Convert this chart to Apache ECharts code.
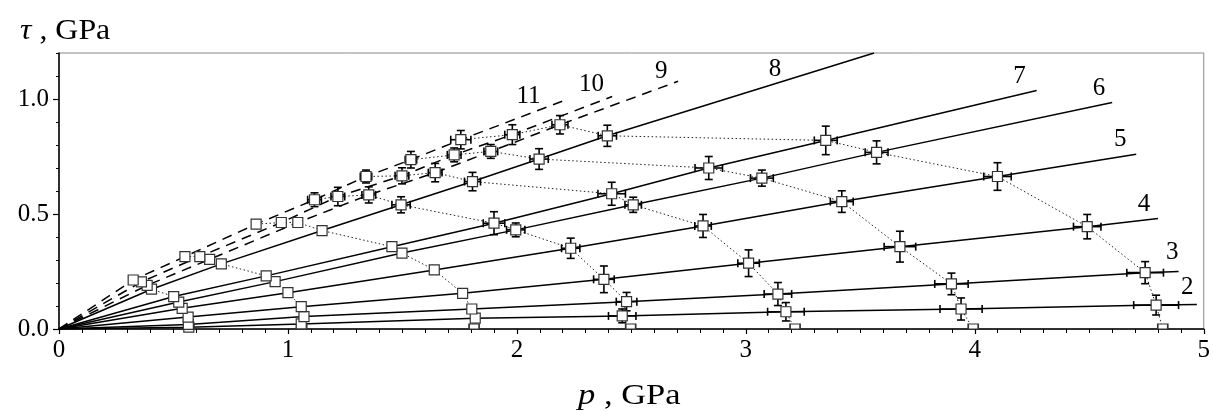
<!DOCTYPE html>
<html>
<head>
<meta charset="utf-8">
<title>tau vs p</title>
<script src="https://cdn.jsdelivr.net/npm/echarts@6/dist/echarts.min.js"></script>
<style>
    html, body { margin: 0; padding: 0; background: #fff; }
    #chart { width: 1213px; height: 412px; }
</style>
</head>
<body>
<div id="chart"></div>
<script>
// yield loci: one entry per loading path, index 0 = path 1 (tau = 0) ... index 10 = path 11
const locus1P = [0.567, 0.567, 0.565, 0.564, 0.538, 0.523, 0.501, 0.404, 0.385, 0.360, 0.324];
const locus1T = [0, 0.008, 0.020, 0.052, 0.090, 0.117, 0.141, 0.173, 0.190, 0.205, 0.213];
const locus2P = [1.060, 1.058, 1.070, 1.058, 1.000, 0.944, 0.905, 0.709, 0.658, 0.615, 0.550];
const locus2T = [0, 0.022, 0.054, 0.097, 0.158, 0.206, 0.231, 0.283, 0.303, 0.315, 0.315];
const locus3P = [1.813, 1.818, 1.803, 1.763, 1.639, 1.498, 1.454, 1.149, 1.043, 0.971, 0.861];
const locus3T = [0, 0.047, 0.087, 0.155, 0.257, 0.330, 0.358, 0.428, 0.463, 0.463, 0.456];
const locus4P = [2.497, 2.460, 2.479, 2.380, 2.235, 1.995, 1.900, 1.494, 1.353, 1.218, 1.116];
const locus4T = [0, 0.057, 0.119, 0.216, 0.351, 0.431, 0.460, 0.540, 0.583, 0.576, 0.562];
const locus5P = [3.215, 3.175, 3.140, 3.012, 2.813, 2.508, 2.414, 1.806, 1.643, 1.498, 1.341];
const locus5T = [0, 0.075, 0.152, 0.286, 0.448, 0.540, 0.588, 0.641, 0.680, 0.666, 0.663];
const locus6P = [3.993, 3.940, 3.898, 3.673, 3.419, 3.070, 2.838, 2.097, 1.886, 1.726, 1.537];
const locus6T = [0, 0.087, 0.196, 0.358, 0.554, 0.656, 0.700, 0.739, 0.772, 0.757, 0.736];
const locus7P = [4.821, 4.792, 4.744, 4.491, 4.099, 3.571, 3.349, 2.395, 2.188, 1.980, 1.755];
const locus7T = [0, 0.104, 0.245, 0.445, 0.663, 0.768, 0.820, 0.840, 0.888, 0.845, 0.823];

// error bars (half widths), only loci 4..7 have them
const locus4dP = [0, 0.060, 0.045, 0.045, 0.040, 0.040, 0.047, 0.040, 0.030, 0.030, 0.030];
const locus4dT = [0, 0.030, 0.040, 0.058, 0.044, 0.030, 0.050, 0.035, 0.035, 0.040, 0.030];
const locus5dP = [0, 0.080, 0.060, 0.047, 0.036, 0.036, 0.060, 0.035, 0.030, 0.030, 0.025];
const locus5dT = [0, 0.040, 0.050, 0.058, 0.050, 0.033, 0.050, 0.040, 0.040, 0.035, 0.028];
const locus6dP = [0, 0.092, 0.073, 0.069, 0.050, 0.050, 0.060, 0.040, 0.030, 0.030, 0.025];
const locus6dT = [0, 0.048, 0.047, 0.067, 0.047, 0.035, 0.050, 0.045, 0.030, 0.030, 0.036];
const locus7dP = [0, 0.098, 0.080, 0.060, 0.060, 0.050, 0.050, 0.040, 0.035, 0.033, 0.044];
const locus7dT = [0, 0.043, 0.048, 0.053, 0.060, 0.050, 0.062, 0.046, 0.040, 0.043, 0.040];

// where each loading path stops (paths 2..11)
const pathNames = ['2', '3', '4', '5', '6', '7', '8', '9', '10', '11'];
const pathEndP = [4.97, 4.89, 4.80, 4.705, 4.60, 4.27, 3.56, 2.704, 2.416, 2.198];
const pathEndT = [0.107, 0.25, 0.48, 0.76, 0.985, 1.037, 1.2, 1.077, 1.011, 0.99];

// curve number labels
const labelP = [4.93, 4.865, 4.741, 4.638, 4.545, 4.197, 3.13, 2.633, 2.328, 2.053];
const labelT = [0.178, 0.331, 0.54, 0.823, 1.045, 1.097, 1.127, 1.119, 1.062, 1.01];

const xTicks = [0, 1, 2, 3, 4, 5];
const yTicks = [0, 0.5, 1.0];

const lociP = [locus1P, locus2P, locus3P, locus4P, locus5P, locus6P, locus7P];
const lociT = [locus1T, locus2T, locus3T, locus4T, locus5T, locus6T, locus7T];
const lociDP = [null, null, null, locus4dP, locus5dP, locus6dP, locus7dP];
const lociDT = [null, null, null, locus4dT, locus5dT, locus6dT, locus7dT];

const FONT = 'Liberation Serif';
let series = [];

// loading paths 2..11
pathNames.forEach((name, i) => {
    const idx = i + 1;
    let pts = [[0, 0]];
    lociP.forEach((lp, k) => pts.push([lp[idx], lociT[k][idx]]));
    pts.push([pathEndP[i], pathEndT[i]]);
    const dashed = idx >= 8;
    series.push({
        type: 'line',
        data: pts,
        symbol: 'none',
        clip: true,
        z: 2,
        lineStyle: {color: '#000', width: 1.5, type: dashed ? [10, 7] : 'solid'}
    });
});

// dotted yield loci
lociP.forEach((lp, k) => {
    series.push({
        type: 'line',
        data: lp.map((p, j) => [p, lociT[k][j]]),
        symbol: 'none',
        z: 3,
        lineStyle: {color: '#222', width: 1, type: [1.5, 2.5]}
    });
});

// error bars
let errData = [];
lociP.forEach((lp, k) => {
    if (!lociDP[k]) return;
    lp.forEach((p, j) => {
        if (lociDP[k][j] > 0 || lociDT[k][j] > 0) {
            errData.push([p, lociT[k][j], lociDP[k][j], lociDT[k][j]]);
        }
    });
});

function renderErr(params, api) {
    const p = api.value(0), t = api.value(1), dp = api.value(2), dt = api.value(3);
    const c = api.coord([p, t]);
    const top = api.coord([p, t + dt])[1], bot = api.coord([p, t - dt])[1];
    const lft = api.coord([p - dp, t])[0], rgt = api.coord([p + dp, t])[0];
    const cap = 4;
    const style = {stroke: '#000', lineWidth: 1.6};
    return {
        type: 'group',
        children: [
            {type: 'line', shape: {x1: c[0], y1: top, x2: c[0], y2: bot}, style: style},
            {type: 'line', shape: {x1: c[0] - cap, y1: top, x2: c[0] + cap, y2: top}, style: style},
            {type: 'line', shape: {x1: c[0] - cap, y1: bot, x2: c[0] + cap, y2: bot}, style: style},
            {type: 'line', shape: {x1: lft, y1: c[1], x2: rgt, y2: c[1]}, style: style},
            {type: 'line', shape: {x1: lft, y1: c[1] - cap, x2: lft, y2: c[1] + cap}, style: style},
            {type: 'line', shape: {x1: rgt, y1: c[1] - cap, x2: rgt, y2: c[1] + cap}, style: style}
        ]
    };
}

series.push({
    type: 'custom',
    renderItem: renderErr,
    data: errData,
    z: 4,
    silent: true
});

// squares
let sq = [];
lociP.forEach((lp, k) => {
    lp.forEach((p, j) => {
        const t = lociT[k][j];
        if (t === 0) {
            sq.push({value: [p, t], symbolSize: [10, 5], symbolOffset: [0, -2.5]});
        } else {
            sq.push({value: [p, t]});
        }
    });
});
series.push({
    type: 'scatter',
    data: sq,
    symbol: 'rect',
    symbolSize: 10,
    z: 5,
    itemStyle: {color: '#fff', borderColor: '#333', borderWidth: 1.2, opacity: 1}
});

// curve number labels
series.push({
    type: 'scatter',
    data: pathNames.map((n, i) => ({name: n, value: [labelP[i], labelT[i]]})),
    symbol: 'circle',
    symbolSize: 1,
    z: 6,
    silent: true,
    itemStyle: {color: 'rgba(255,255,255,0)'},
    label: {
        show: true, position: [0, 0], align: 'center', verticalAlign: 'middle',
        formatter: '{b}', textBorderWidth: 0, opacity: 1,
        fontFamily: FONT, fontSize: 25, color: '#000'
    }
});

const chart = echarts.init(document.getElementById('chart'));
chart.setOption({
    animation: false,
    backgroundColor: '#fff',
    grid: {left: 59, right: 7, top: 53, bottom: 83, show: true, borderColor: '#888', borderWidth: 1},
    xAxis: {
        type: 'value', min: 0, max: 5, interval: 1,
        axisLine: {lineStyle: {color: '#000', width: 1.5}},
        axisTick: {length: 5, lineStyle: {color: '#000', width: 1.2}},
        minorTick: {show: true, splitNumber: 10, length: 4, lineStyle: {color: '#000', width: 1}},
        splitLine: {show: false},
        axisLabel: {
            margin: 9, fontFamily: FONT, fontSize: 25, color: '#000',
            customValues: xTicks
        }
    },
    yAxis: [{
        type: 'value', min: 0, max: 1.2, interval: 0.1,
        axisLine: {lineStyle: {color: '#000', width: 1.5}},
        axisTick: {length: 3, lineStyle: {color: '#000', width: 1}},
        splitLine: {show: false},
        axisLabel: {
            margin: 10, fontFamily: FONT, fontSize: 25, color: '#000',
            customValues: yTicks,
            formatter: v => v.toFixed(1)
        }
    }, {
        type: 'value', min: 0, max: 1.2, position: 'left',
        axisLine: {show: false},
        axisTick: {show: true, length: 6, customValues: yTicks, lineStyle: {color: '#000', width: 1.2}},
        axisLabel: {show: false},
        splitLine: {show: false}
    }],
    graphic: [{
        type: 'text', x: 20, y: 31, scaleX: 1.1,
        style: {
            text: '{i|τ}{n| , GPa}',
            rich: {
                i: {fontStyle: 'italic', fontFamily: FONT, fontSize: 29, fill: '#000'},
                n: {fontFamily: FONT, fontSize: 29, fill: '#000'}
            },
            verticalAlign: 'middle'
        }
    }, {
        type: 'text', x: 578, y: 396, scaleX: 1.15,
        style: {
            text: '{i|p}{n| , GPa}',
            rich: {
                i: {fontStyle: 'italic', fontFamily: FONT, fontSize: 30, fill: '#000'},
                n: {fontFamily: FONT, fontSize: 30, fill: '#000'}
            },
            verticalAlign: 'middle'
        }
    }],
    series: series
});
</script>
</body>
</html>
